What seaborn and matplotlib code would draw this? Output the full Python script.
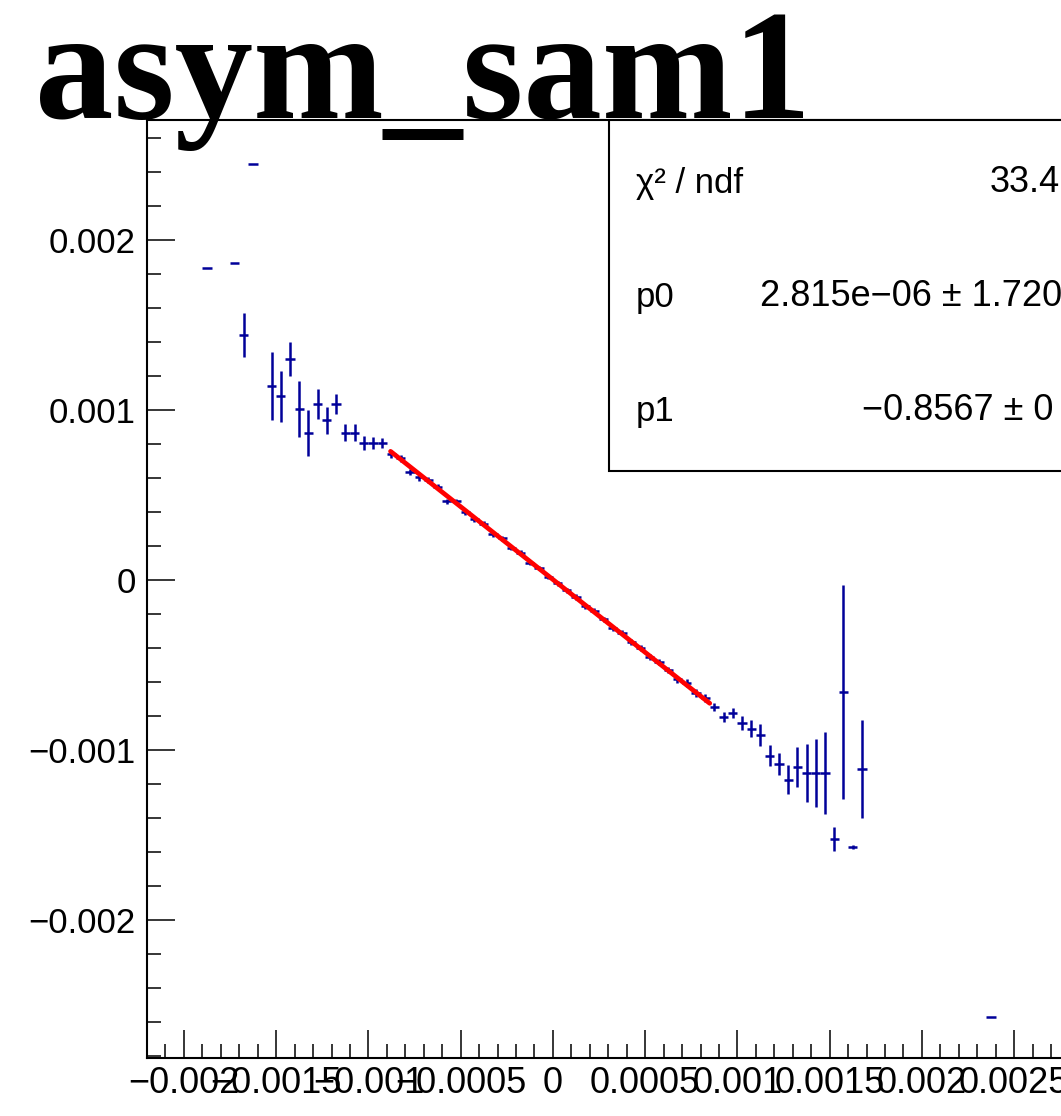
import numpy as np
import pandas as pd
import matplotlib
matplotlib.use("Agg")
import matplotlib.pyplot as plt
import seaborn as sns
from matplotlib.ticker import MultipleLocator, FuncFormatter
from matplotlib.patches import Rectangle

# ---------------- data (units of 1e-3) ----------------
bin_centers = [
    -1.875, -1.725, -1.675, -1.625,
    -1.525, -1.475, -1.425, -1.375, -1.325, -1.275, -1.225, -1.175, -1.125, -1.075,
    -1.025, -0.975, -0.925, -0.875, -0.825,
    -0.775, -0.725, -0.675, -0.625, -0.575, -0.525, -0.475, -0.425, -0.375, -0.325,
    -0.275, -0.225, -0.175, -0.125, -0.075, -0.025, 0.025, 0.075, 0.125, 0.175,
    0.225, 0.275, 0.325, 0.375, 0.425, 0.475, 0.525, 0.575, 0.625, 0.675,
    0.725, 0.775, 0.825, 0.875, 0.925, 0.975, 1.025, 1.075, 1.125, 1.175,
    1.225, 1.275, 1.325, 1.375, 1.425, 1.475, 1.525, 1.575, 1.625, 1.675,
    2.375,
]
bin_values = [
    1.835, 1.865, 1.441, 2.447,
    1.141, 1.082, 1.300, 1.006, 0.865, 1.035, 0.940, 1.035, 0.865, 0.865,
    0.806, 0.806, 0.806, 0.741, 0.715,
    0.635, 0.605, 0.590, 0.545, 0.462, 0.462, 0.400, 0.360, 0.330, 0.270,
    0.245, 0.190, 0.160, 0.100, 0.070, 0.020, -0.020, -0.060, -0.100, -0.155,
    -0.180, -0.230, -0.285, -0.310, -0.365, -0.400, -0.455, -0.480, -0.530, -0.585,
    -0.606, -0.665, -0.694, -0.747, -0.806, -0.782, -0.841, -0.876, -0.912, -1.035,
    -1.082, -1.176, -1.100, -1.135, -1.135, -1.135, -1.524, -0.659, -1.570, -1.112,
    -2.570,
]
bin_errors = [
    0.0, 0.0, 0.13, 0.0,
    0.20, 0.15, 0.10, 0.165, 0.135, 0.09, 0.08, 0.06, 0.05, 0.05,
    0.04, 0.035, 0.03, 0.025, 0.022,
    0.020, 0.020, 0.018, 0.018, 0.017, 0.017, 0.016, 0.016, 0.015, 0.015,
    0.015, 0.015, 0.014, 0.014, 0.014, 0.014, 0.014, 0.014, 0.015, 0.015,
    0.015, 0.015, 0.016, 0.016, 0.017, 0.017, 0.018, 0.018, 0.020, 0.020,
    0.022, 0.022, 0.025, 0.025, 0.030, 0.030, 0.040, 0.050, 0.064, 0.062,
    0.065, 0.085, 0.120, 0.170, 0.200, 0.240, 0.070, 0.630, 0.010, 0.290,
    0.0,
]
bin_width = 0.05  # 1e-3 units

fit_p0 = 2.815e-06
fit_p1 = -0.8567
fit_range = [-0.00088, 0.00085]

title_text = "asym_sam1"
stats_labels = ["\u03c7\u00b2 / ndf", "p0", "p1"]
stats_values = ["33.4", "2.815e\u221206 \u00b1 1.720", "\u22120.8567 \u00b1 0"]

# ---------------- styling ----------------
sns.set_theme(style="white")
plt.rcParams['font.family'] = ['Liberation Sans', 'DejaVu Sans']
plt.rcParams['axes.unicode_minus'] = True
for k in ['text.color', 'xtick.color', 'ytick.color', 'xtick.labelcolor',
          'ytick.labelcolor', 'axes.labelcolor', 'axes.edgecolor']:
    plt.rcParams[k] = 'black'

W, H = 1061, 1116
fig = plt.figure(figsize=(W / 100, H / 100), dpi=100)
fig.patch.set_facecolor("white")

ax = fig.add_axes([147 / W, 58 / H, 959.4 / W, 938 / H])
ax.set_facecolor("white")

df = pd.DataFrame({
    "x": np.array(bin_centers) * 1e-3,
    "y": np.array(bin_values) * 1e-3,
    "err": np.array(bin_errors) * 1e-3,
})

blue = "#000099"
ax.errorbar(df["x"], df["y"], xerr=bin_width * 1e-3 / 2, yerr=df["err"],
            fmt="none", ecolor=blue, elinewidth=1.8, capsize=0, zorder=3)

fit_df = pd.DataFrame({"x": fit_range})
fit_df["y"] = fit_p0 + fit_p1 * fit_df["x"]
sns.lineplot(data=fit_df, x="x", y="y", color="#ff0000", lw=3.4, ax=ax, zorder=4)

ax.set_xlim(-0.0022, 0.003)
ax.set_ylim(-0.002812, 0.002706)
ax.set_xlabel("")
ax.set_ylabel("")

def fmt(v, pos):
    v = round(v, 8)
    if v == 0:
        return "0"
    s = f"{v:g}"
    return s.replace("-", "\u2212")

ax.xaxis.set_major_locator(MultipleLocator(0.0005))
ax.xaxis.set_minor_locator(MultipleLocator(0.0001))
ax.yaxis.set_major_locator(MultipleLocator(0.001))
ax.yaxis.set_minor_locator(MultipleLocator(0.0002))
ax.xaxis.set_major_formatter(FuncFormatter(fmt))
ax.yaxis.set_major_formatter(FuncFormatter(fmt))

ax.tick_params(which="both", direction="in", top=False, right=False,
               left=True, bottom=True, color="black", labelcolor="black", width=1.1)
ax.tick_params(which="major", length=20)
ax.tick_params(which="minor", length=10)
ax.tick_params(axis="y", which="major", labelsize=25, pad=8)
ax.tick_params(axis="x", which="major", labelsize=26, pad=6)
for lbl in ax.get_xticklabels():
    lbl.set_fontfamily(['Liberation Sans Narrow', 'Liberation Sans'])

for sp in ax.spines.values():
    sp.set_color("black")
    sp.set_linewidth(1.5)
    sp.set_visible(True)

# stats box
box = Rectangle((609 / W, 645 / H), 0.6, 351 / H, transform=fig.transFigure,
                facecolor="white", edgecolor="black", lw=1.5, zorder=5)
fig.add_artist(box)

label_y = [183, 297, 411]
value_x = [990, 760, 862]
for lab, val, yy, vx in zip(stats_labels, stats_values, label_y, value_x):
    fig.text(636 / W, 1 - yy / H, lab, fontsize=25, va="center", ha="left",
             color="black", zorder=6)
    fig.text(vx / W, 1 - yy / H, val, fontsize=26, va="center", ha="left",
             color="black", zorder=6)

fig.text(35 / W, 1 - 118 / H, title_text, fontsize=113, fontweight="bold",
         family=["Liberation Serif"], va="baseline", ha="left", color="black",
         zorder=10)

fig.savefig("out.png", dpi=100)
